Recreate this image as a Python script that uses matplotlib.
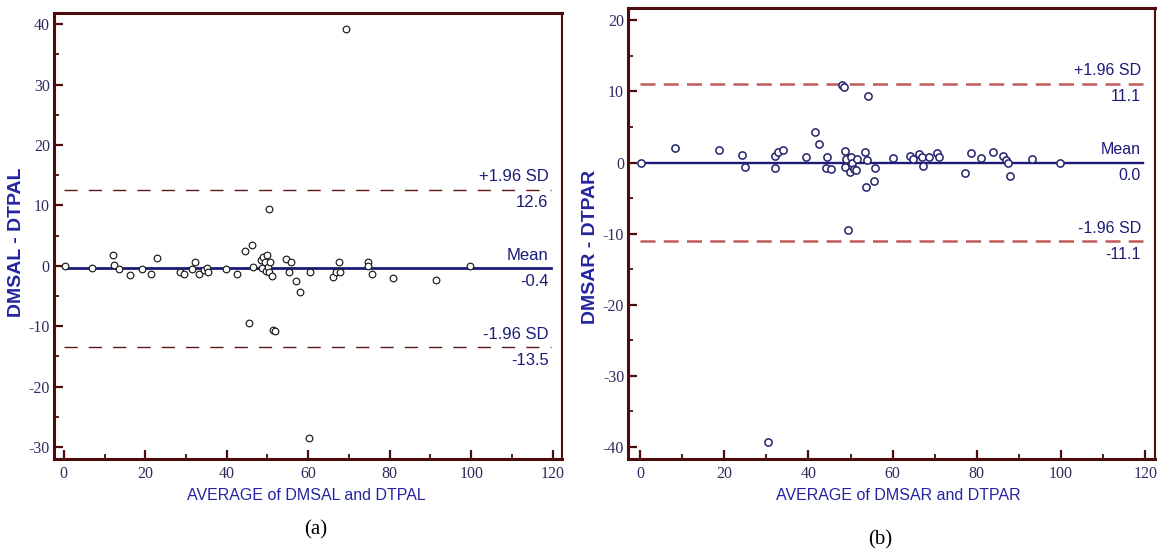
import matplotlib
matplotlib.use("Agg")
import matplotlib.pyplot as plt
from matplotlib.ticker import MultipleLocator

plt.rcParams["axes.unicode_minus"] = False

# ---- data: Bland-Altman comparison, left side (DMSAL vs DTPAL) ----
avg_a = [0.3, 6.9, 12.0, 12.4, 13.5, 16.3, 19.1, 21.4, 22.9, 28.6, 29.6, 31.5,
         32.2, 33.2, 34.5, 35.1, 35.4, 39.7, 42.6, 44.6, 45.4, 46.1, 46.4, 48.4,
         48.7, 48.9, 49.3, 49.6, 49.8, 50.1, 50.3, 50.4, 50.7, 51.1, 51.3, 51.9,
         54.5, 55.3, 55.7, 57.1, 58.1, 60.2, 60.4, 66.0, 66.8, 67.6, 67.7, 69.3,
         74.7, 74.8, 75.6, 80.9, 91.4, 99.8]
diff_a = [0.0, -0.3, 1.8, 0.1, -0.6, -1.5, -0.6, -1.3, 1.2, -1.0, -1.4, -0.6,
          0.55, -1.3, -0.65, -0.3, -1.1, -0.6, -1.3, 2.5, -9.4, 3.4, -0.2, 0.9,
          -0.4, 1.5, 0.55, -0.8, 1.8, -0.2, -1.0, 9.4, 0.7, -1.7, -10.6, -10.8,
          1.1, -1.0, 0.55, -2.6, -4.3, -28.6, -1.1, -1.8, -1.0, 0.7, -1.0, 39.2,
          0.6, -0.1, -1.3, -2.0, -2.4, -0.1]
mean_a, upper_a, lower_a = -0.4, 12.6, -13.5

# ---- data: right side (DMSAR vs DTPAR) ----
avg_b = [0.3, 8.4, 18.8, 24.2, 24.9, 30.5, 32.1, 32.1, 32.8, 33.9, 39.4, 41.5,
         42.6, 44.2, 44.5, 45.3, 47.9, 48.5, 48.6, 48.8, 49.0, 49.5, 49.9, 50.0,
         50.4, 50.8, 51.4, 51.6, 53.4, 53.6, 53.8, 54.2, 55.5, 55.9, 60.2, 64.1,
         64.8, 66.3, 66.9, 67.3, 68.7, 70.6, 71.1, 77.2, 78.5, 80.9, 83.8, 86.3,
         86.9, 87.5, 87.9, 93.0, 99.8]
diff_b = [-0.1, 2.0, 1.8, 1.1, -0.6, -39.3, 0.9, -0.8, 1.5, 1.7, 0.8, 4.3,
          2.6, -0.8, 0.8, -0.9, 10.9, 10.6, 1.6, -0.6, 0.5, -9.5, -1.3, 0.8,
          -0.1, -0.9, -1.1, 0.5, 1.5, -3.5, 0.3, 9.4, -2.6, -0.7, 0.6, 0.9,
          0.5, 1.2, 0.75, -0.5, 0.75, 1.3, 0.8, -1.4, 1.3, 0.6, 1.5, 0.9,
          0.4, -0.1, -1.9, 0.5, 0.0]
mean_b, upper_b, lower_b = 0.0, 11.1, -11.1

x_ticks = [0, 20, 40, 60, 80, 100, 120]

# ---- styling ----
W, H = 1166, 556
FRAME = "#4d0b0b"
NAVY = "#1b1b78"
TICKTXT = "#2c2c5e"
SANS = ["Liberation Sans", "DejaVu Sans"]
SERIF = ["Liberation Serif", "DejaVu Serif"]

fig = plt.figure(figsize=(W / 100, H / 100), dpi=100)
fig.patch.set_facecolor("white")


def px_box(l, t, r, b):
    return [l / W, 1 - b / H, (r - l) / W, (b - t) / H]


def style_axes(ax, xlim, ylim):
    ax.set_xlim(*xlim)
    ax.set_ylim(*ylim)
    ax.set_xticks(x_ticks)
    ax.xaxis.set_minor_locator(MultipleLocator(10))
    ax.yaxis.set_major_locator(MultipleLocator(10))
    ax.yaxis.set_minor_locator(MultipleLocator(5))
    for side in ("left", "bottom", "top"):
        ax.spines[side].set_linewidth(2.2)
        ax.spines[side].set_color(FRAME)
    ax.spines["right"].set_linewidth(1.5)
    ax.spines["right"].set_color(FRAME)
    ax.tick_params(which="major", direction="in", length=6.5, width=1.6,
                   color=FRAME, labelsize=11.5, labelcolor=TICKTXT)
    ax.tick_params(which="minor", direction="in", length=3.5, width=1.3,
                   color=FRAME)
    ax.tick_params(axis="x", which="major", pad=5)
    ax.tick_params(axis="y", which="major", pad=3)
    for lab in ax.get_xticklabels() + ax.get_yticklabels():
        lab.set_fontfamily(SERIF)


def draw_limits(ax, mean, upper, lower, dash_color, dash_lw, dash_pat,
                mean_lw, fs, off_above, off_below):
    x0, x1 = 0, 119.5
    for val in (upper, lower):
        ax.plot([x0, x1], [val, val], color=dash_color, lw=dash_lw,
                dashes=dash_pat, zorder=2)
    ax.plot([x0, x1], [mean, mean], color=NAVY, lw=mean_lw, zorder=2)
    xt = 119.0
    for val, top, bottom in [(upper, "+1.96 SD", f"{upper:.1f}"),
                             (mean, "Mean", f"{mean:.1f}"),
                             (lower, "-1.96 SD", f"{lower:.1f}")]:
        ax.annotate(top, (xt, val), xytext=(0, off_above),
                    textcoords="offset points", ha="right", va="bottom",
                    color=NAVY, fontsize=fs, family=SANS)
        ax.annotate(bottom, (xt, val), xytext=(0, -off_below),
                    textcoords="offset points", ha="right", va="top",
                    color=NAVY, fontsize=fs, family=SANS)


# ---- panel (a) ----
ax1 = fig.add_axes(px_box(54, 12.7, 562, 459))
style_axes(ax1, (-2.4, 122.3), (-32.0, 41.9))
draw_limits(ax1, mean_a, upper_a, lower_a, "#5a1818", 1.0, (9.5, 8.0),
            2.0, 12, 4, 4)
ax1.plot(avg_a, diff_a, linestyle="none", marker="o", markersize=4.8,
         markerfacecolor="white", markeredgecolor="#1a1a1a",
         markeredgewidth=0.85, zorder=3)

# ---- panel (b) ----
ax2 = fig.add_axes(px_box(628.3, 8.3, 1155.3, 459))
style_axes(ax2, (-2.8, 122.4), (-41.7, 21.7))
draw_limits(ax2, mean_b, upper_b, lower_b, "#c05a5a", 1.8, (6.0, 3.3),
            1.7, 11.5, 4, 4)
ax2.plot(avg_b, diff_b, linestyle="none", marker="o", markersize=5.2,
         markerfacecolor="white", markeredgecolor="#22226e",
         markeredgewidth=1.1, zorder=3)

# ---- axis titles and captions ----
def ftext(x, y, s, **kw):
    fig.text(x / W, 1 - y / H, s, **kw)


ftext(17, 242, "DMSAL - DTPAL", rotation=90, ha="center", va="center",
      color="#2424a0", fontsize=14, fontweight="bold", family=SANS)
ftext(306, 495, "AVERAGE of DMSAL and DTPAL", ha="center", va="center",
      color="#2424a0", fontsize=11.5, family=SANS)
ftext(590, 247, "DMSAR - DTPAR", rotation=90, ha="center", va="center",
      color="#2424a0", fontsize=14, fontweight="bold", family=SANS)
ftext(898, 495, "AVERAGE of DMSAR and DTPAR", ha="center", va="center",
      color="#2424a0", fontsize=11.5, family=SANS)
ftext(316, 530, "(a)", ha="center", va="center", color="black",
      fontsize=15, family=SERIF)
ftext(880, 540, "(b)", ha="center", va="center", color="black",
      fontsize=15, family=SERIF)

fig.savefig("out.png", dpi=100, facecolor="white")
